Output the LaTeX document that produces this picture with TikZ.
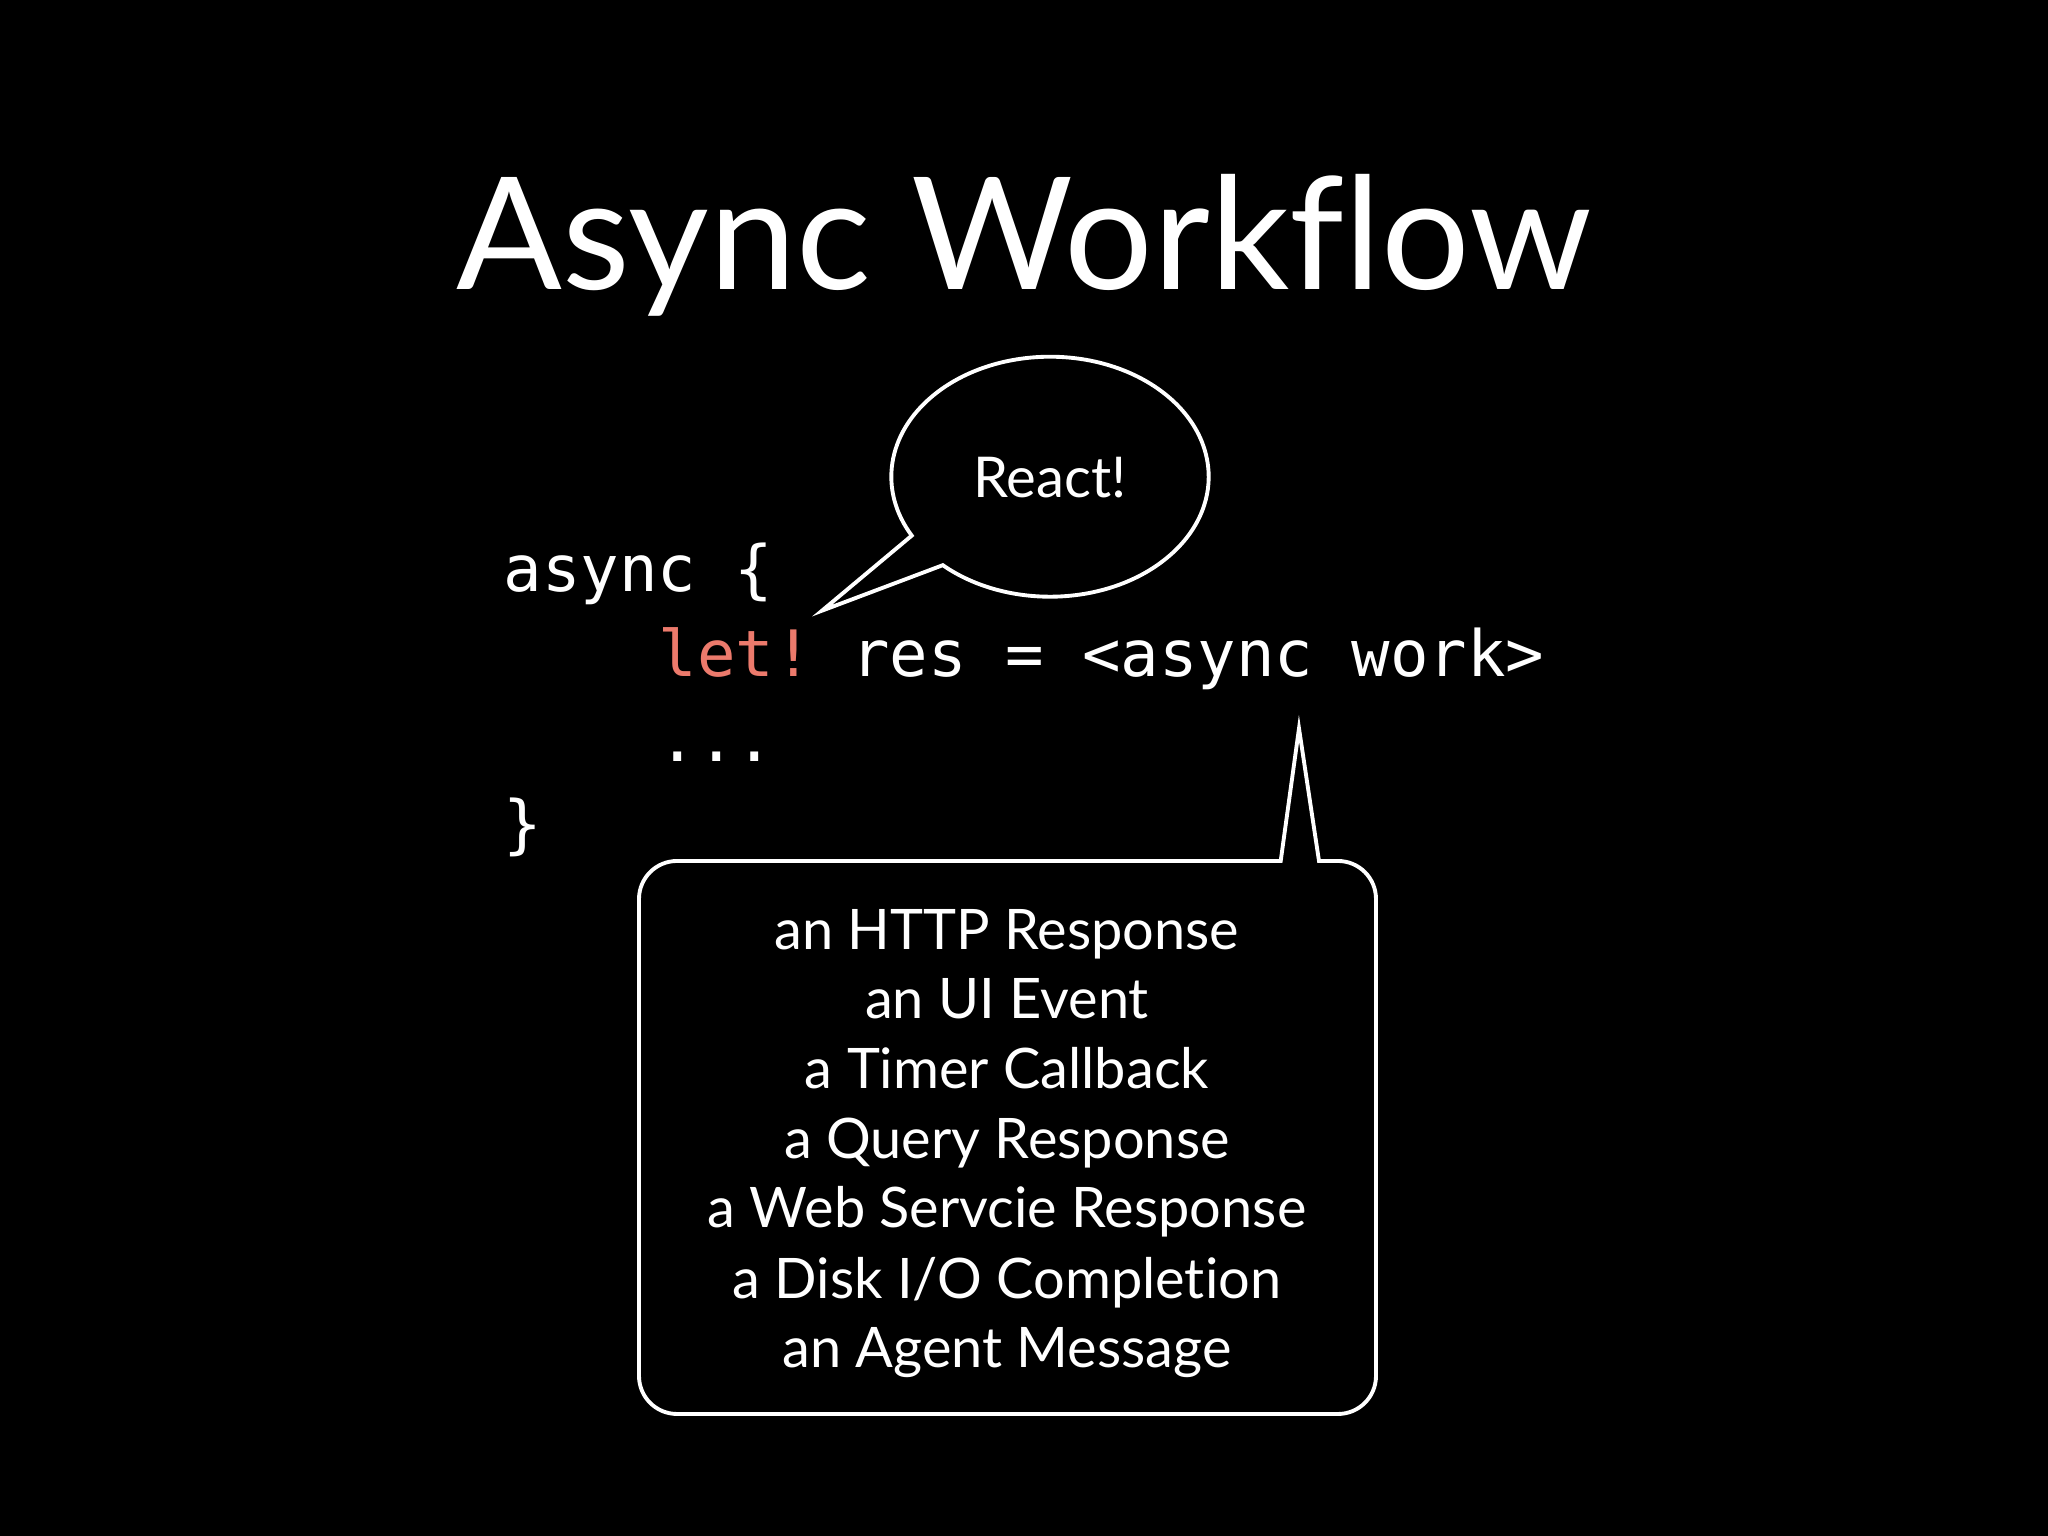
\documentclass[tikz,border=0pt]{standalone}
\usepackage{fontspec}
\setmainfont{Lato}[Ligatures=NoCommon]
\setmonofont{DejaVu Sans Mono}
\frenchspacing
\definecolor{letred}{RGB}{236,122,108}
\tikzset{
  outline/.style={draw=white, line width=1.1pt},
  code/.style={font=\ttfamily\fontsize{18.2}{22}\selectfont, anchor=base west},
  item/.style={font=\fontsize{15.9}{19}\selectfont, anchor=base}
}
\begin{document}
\begin{tikzpicture}[every node/.style={text=white, inner sep=0pt}]
  % background
  \fill[black] (0,0) rectangle (20.48,15.36);
  % title
  \node[anchor=base, font=\fontsize{44.5}{50}\selectfont] (title) at (10.24,12.46) {Async Workflow};
  % React! bubble
  \coordinate (reacttip) at (8.22,9.253);
  \draw[outline, fill=black] (reacttip) -- (9.428,9.708)
    arc[start angle=227.5, end angle=569.4, x radius=1.587, y radius=1.2] -- cycle;
  \node[anchor=base, font=\fontsize{16}{19}\selectfont] (react) at (10.5,10.38) {React!};
  % code
  \node[code] (line1) at (5.03,9.44) {async \{};
  \node[code] (line2) at (6.58,8.59) {{\color{letred}let!} res = <async work>};
  \node[code] (line3) at (6.58,7.74) {...};
  \node[code] (line4) at (5.03,6.89) {\}};
  % events box
  \coordinate (worktip) at (12.99,8.075);
  \draw[outline] (12.807,6.75) -- (worktip) -- (13.19,6.75) -- (13.38,6.75)
    arc[start angle=90, end angle=0, radius=0.38] -- (13.76,1.60)
    arc[start angle=0, end angle=-90, radius=0.38] -- (6.77,1.22)
    arc[start angle=270, end angle=180, radius=0.38] -- (6.39,6.37)
    arc[start angle=180, end angle=90, radius=0.38] -- cycle;
  \node[item] (ev1) at (10.07,5.86) {an HTTP Response};
  \node[item] (ev2) at (10.07,5.17) {an UI Event};
  \node[item] (ev3) at (10.07,4.47) {a Timer Callback};
  \node[item] (ev4) at (10.07,3.77) {a Query Response};
  \node[item] (ev5) at (10.07,3.08) {a Web Servcie Response};
  \node[item] (ev6) at (10.07,2.37) {a Disk I/O Completion};
  \node[item] (ev7) at (10.07,1.68) {an Agent Message};
\end{tikzpicture}
\end{document}
